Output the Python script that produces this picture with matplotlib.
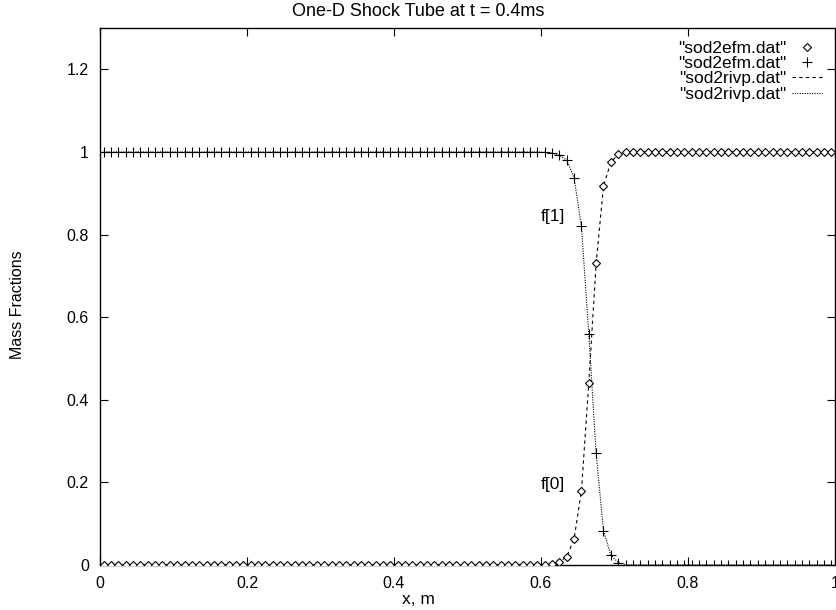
import matplotlib
matplotlib.use("Agg")
import matplotlib.pyplot as plt

plt.rcParams['font.family'] = ['Liberation Sans', 'DejaVu Sans']

# cell centres, dx = 0.01
x = [round(0.005 + 0.01 * i, 3) for i in range(100)]

# mass fractions (sod2efm.dat)
f0_efm = [0.0] * 60 + [0.001, 0.003, 0.008, 0.02, 0.063, 0.179, 0.44, 0.73,
                       0.917, 0.975, 0.994, 0.999] + [1.0] * 28
f1_efm = [1.0] * 60 + [0.999, 0.997, 0.992, 0.98, 0.937, 0.821, 0.56, 0.27,
                       0.083, 0.024, 0.006, 0.001] + [0.0] * 28
# riemann solver result (sod2rivp.dat)
f0_rivp = list(f0_efm)
f1_rivp = list(f1_efm)

xticks = [0, 0.2, 0.4, 0.6, 0.8, 1]
xtick_labels = ["0", "0.2", "0.4", "0.6", "0.8", "1"]
yticks = [0, 0.2, 0.4, 0.6, 0.8, 1, 1.2]
ytick_labels = ["0", "0.2", "0.4", "0.6", "0.8", "1", "1.2"]

fig = plt.figure(figsize=(8.36, 6.10), dpi=100)
ax = fig.add_axes([100 / 836, 45 / 610, 735 / 836, 537 / 610])

ax.plot(x, f0_efm, linestyle='none', marker='D', markersize=4.3,
        markerfacecolor='white', markeredgecolor='black', markeredgewidth=0.8,
        label='"sod2efm.dat"', zorder=3)
ax.plot(x, f1_efm, linestyle='none', marker='+', markersize=7.5,
        markeredgecolor='black', markeredgewidth=0.8,
        label='"sod2efm.dat"', zorder=3)
ax.plot(x, f0_rivp, color='black', linewidth=0.8, dashes=(3, 3),
        label='"sod2rivp.dat"', zorder=2)
ax.plot(x, f1_rivp, color='black', linewidth=0.8, dashes=(1, 1.2),
        label='"sod2rivp.dat"', zorder=2)

ax.text(0.6, 0.843, "f[1]", fontsize=12.5, ha='left', va='center')
ax.text(0.6, 0.194, "f[0]", fontsize=12.5, ha='left', va='center')

ax.set_xlim(0, 1)
ax.set_ylim(0, 1.3)
ax.set_xticks(xticks)
ax.set_xticklabels(xtick_labels)
ax.set_yticks(yticks)
ax.set_yticklabels(ytick_labels)
ax.tick_params(direction='in', length=6, width=0.8, top=True, right=True,
               labelsize=11.5, pad=8, colors='black')
for s in ax.spines.values():
    s.set_linewidth(1.0)

fig.text(0.5, 1 - 12 / 610, "One-D Shock Tube at t = 0.4ms", fontsize=13,
         ha='center', va='center')
fig.text(0.5, 1 - 599 / 610, "x, m", fontsize=12.5, ha='center', va='center')
fig.text(18 / 836, 0.5, "Mass Fractions", fontsize=11.5, rotation=90,
         ha='center', va='center')

leg = ax.legend(loc='upper right', markerfirst=False, frameon=False,
                fontsize=12.5, handlelength=1.7, handletextpad=0.35,
                labelspacing=0.0, borderaxespad=0.35,
                bbox_to_anchor=(1.0, 1.0))
for t in leg.get_texts():
    t.set_ha('right')

fig.savefig("out.png", dpi=100)
